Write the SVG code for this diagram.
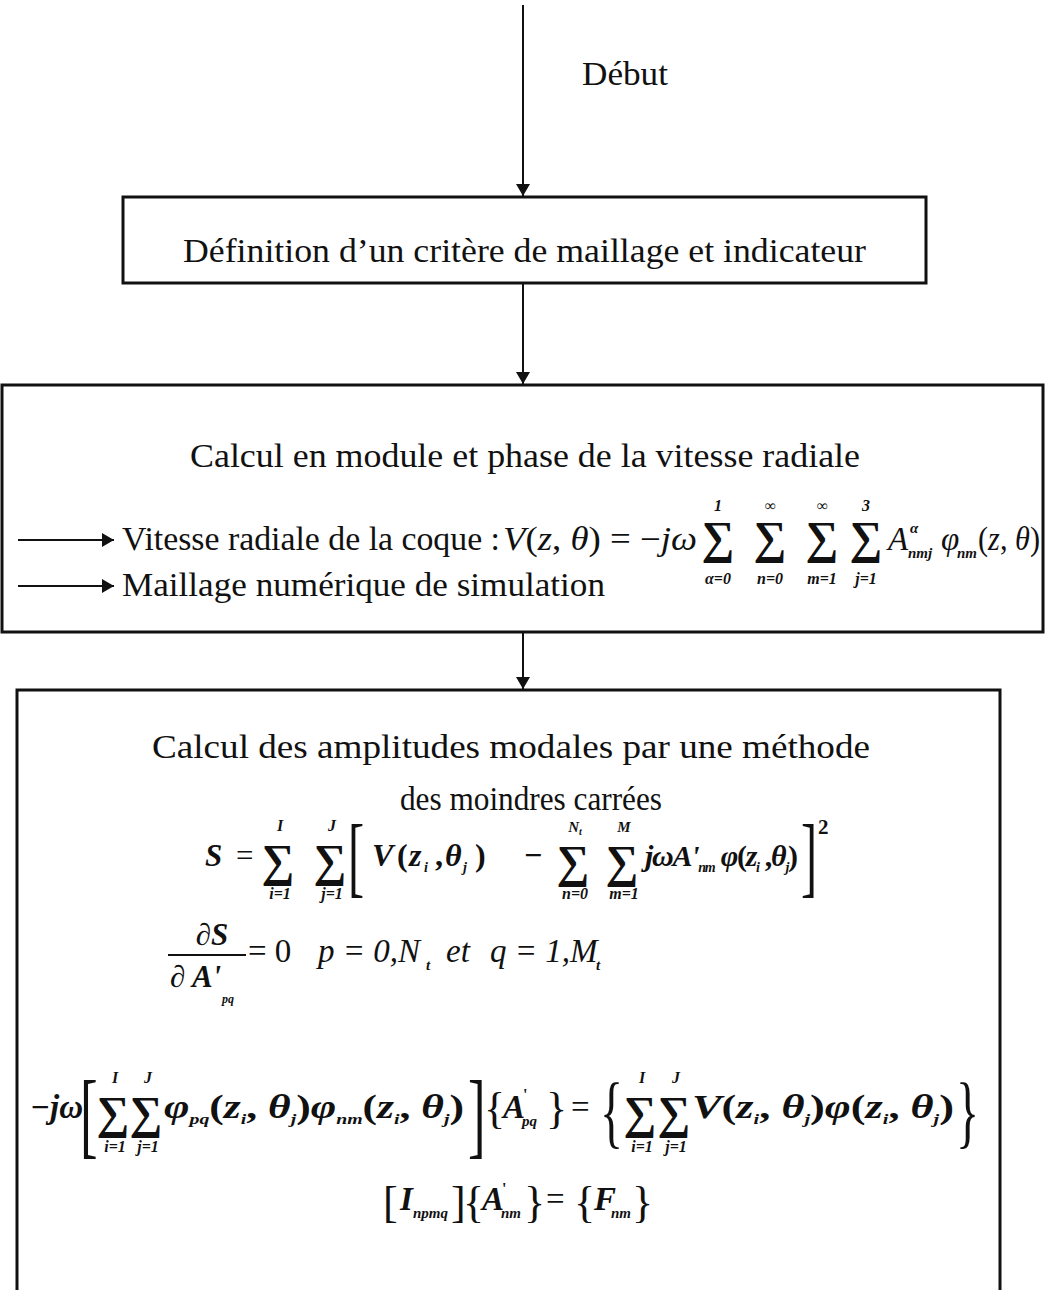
<svg xmlns="http://www.w3.org/2000/svg" width="1045" height="1290" viewBox="0 0 1045 1290">
<style>
.t{font-family:"Liberation Serif","Times New Roman",serif;font-size:33px;fill:#111}
.i{font-style:italic}
.b{font-weight:bold}
.s{font-size:46px;text-anchor:middle;font-weight:bold}
.lim{font-size:16px;font-style:italic;font-weight:bold;text-anchor:middle}
.sub{font-size:15px;font-style:italic;font-weight:bold}
.box{fill:none;stroke:#111;stroke-width:3}
.ln{stroke:#111;stroke-width:2;fill:none}
</style>
<defs>
<marker id="ah" markerWidth="12" markerHeight="14" refX="12" refY="7" orient="auto" markerUnits="userSpaceOnUse">
<path d="M0,0 L12,7 L0,14 z" fill="#111"/>
</marker>
</defs>
<rect width="1045" height="1290" fill="#fff"/>
<g id="connectors">
<line class="ln" x1="523" y1="5" x2="523" y2="196" marker-end="url(#ah)"/>
<line class="ln" x1="523" y1="283" x2="523" y2="384" marker-end="url(#ah)"/>
<line class="ln" x1="523" y1="632" x2="523" y2="689" marker-end="url(#ah)"/>
<line class="ln" x1="18" y1="540" x2="114" y2="540" marker-end="url(#ah)"/>
<line class="ln" x1="18" y1="586" x2="114" y2="586" marker-end="url(#ah)"/>
</g>
<g id="start">
<text class="t" x="582" y="85" textLength="86" lengthAdjust="spacingAndGlyphs">Début</text>
</g>
<g id="node-definition">
<rect class="box" x="123" y="197" width="803" height="86"/>
<text class="t" x="183" y="262" textLength="683" lengthAdjust="spacingAndGlyphs">Définition d’un critère de maillage et indicateur</text>
</g>
<g id="node-vitesse">
<rect class="box" x="2" y="385" width="1041" height="247"/>
<text class="t" x="190" y="467" textLength="670" lengthAdjust="spacingAndGlyphs">Calcul en module et phase de la vitesse radiale</text>
<text class="t" x="122" y="550" textLength="378" lengthAdjust="spacingAndGlyphs">Vitesse radiale de la coque :</text>
<text class="t" x="503" y="550" textLength="194" lengthAdjust="spacingAndGlyphs"><tspan class="i">V</tspan>(<tspan class="i">z</tspan>, <tspan class="i">θ</tspan>) = −<tspan class="i">jω</tspan></text>
<text class="t s" x="718" y="553">∑</text>
<text class="t s" x="770" y="553">∑</text>
<text class="t s" x="822" y="553">∑</text>
<text class="t s" x="866" y="553">∑</text>
<text class="t lim" x="718" y="511">1</text>
<text class="t lim" x="770" y="511">∞</text>
<text class="t lim" x="822" y="511">∞</text>
<text class="t lim" x="866" y="511">3</text>
<text class="t lim" x="718" y="584">α=0</text>
<text class="t lim" x="770" y="584">n=0</text>
<text class="t lim" x="822" y="584">m=1</text>
<text class="t lim" x="866" y="584">j=1</text>
<text class="t i" x="888" y="550">A</text>
<text class="t sub" x="910" y="533">α</text>
<text class="t sub" x="908" y="558">nmj</text>
<text class="t i" x="941" y="550">φ</text>
<text class="t sub" x="957" y="558">nm</text>
<text class="t" x="978" y="550" textLength="62" lengthAdjust="spacingAndGlyphs">(<tspan class="i">z</tspan>, <tspan class="i">θ</tspan>)</text>
<text class="t" x="122" y="596" textLength="483" lengthAdjust="spacingAndGlyphs">Maillage numérique de simulation</text>
</g>
<g id="node-amplitudes">
<rect class="box" x="17" y="690" width="983" height="640"/>
<text class="t" x="152" y="758" textLength="718" lengthAdjust="spacingAndGlyphs">Calcul des amplitudes modales par une méthode</text>
<text class="t" x="400" y="810" textLength="262" lengthAdjust="spacingAndGlyphs">des moindres carrées</text>
<!-- S equation -->
<text class="t i b" x="205" y="866" style="font-size:31px">S</text>
<text class="t" x="236" y="866" style="font-size:31px">=</text>
<text class="t s" x="278" y="876">∑</text>
<text class="t s" x="330" y="876">∑</text>
<text class="t lim" x="280" y="831">I</text>
<text class="t lim" x="332" y="831">J</text>
<text class="t lim" x="280" y="899">i=1</text>
<text class="t lim" x="332" y="899">j=1</text>
<text class="t" transform="translate(348,886) scale(0.55,1)" style="font-size:88px">[</text>
<text class="t i b" y="866" style="font-size:32px"><tspan x="372">V</tspan><tspan x="397" font-style="normal">(</tspan><tspan x="409">z</tspan><tspan x="424" dy="6" style="font-size:14px">i</tspan><tspan x="435" dy="-6" font-style="normal">,</tspan><tspan x="445">θ</tspan><tspan x="463" dy="6" style="font-size:14px">j</tspan><tspan x="475" dy="-6" font-style="normal">)</tspan><tspan x="524" font-style="normal">−</tspan></text>
<text class="t s" x="573" y="877">∑</text>
<text class="t s" x="622" y="877">∑</text>
<text class="t lim" x="575" y="832" style="font-size:15px">N<tspan style="font-size:10px" dy="3">t</tspan></text>
<text class="t lim" x="624" y="832" style="font-size:15px">M</text>
<text class="t lim" x="575" y="899">n=0</text>
<text class="t lim" x="624" y="899">m=1</text>
<text class="t i b" x="645" y="866" style="font-size:30px" textLength="153" lengthAdjust="spacing">jωA'<tspan style="font-size:14px" dy="6">nm</tspan><tspan dy="-6"> φ</tspan><tspan font-style="normal">(</tspan>z<tspan style="font-size:14px" dy="6">i</tspan><tspan dy="-6" font-style="normal"> ,</tspan>θ<tspan style="font-size:14px" dy="6">j</tspan><tspan dy="-6" font-style="normal">)</tspan></text>
<text class="t" transform="translate(801,886) scale(0.55,1)" style="font-size:88px">]</text>
<text class="t b" x="818" y="834" style="font-size:21px">2</text>
<!-- dS equation -->
<text class="t i b" x="212" y="945" text-anchor="middle" style="font-size:31px">∂S</text>
<line class="ln" x1="168" y1="955" x2="246" y2="955"/>
<text class="t i b" x="170" y="987" style="font-size:31px">∂ A'</text>
<text class="t sub" x="222" y="1003" style="font-size:12px">pq</text>
<text class="t" x="248" y="962">= 0</text>
<text class="t i" x="318" y="962">p = 0,N</text>
<text class="t sub" x="426" y="970">t</text>
<text class="t i" x="446" y="962">et</text>
<text class="t i" x="490" y="962">q = 1,M</text>
<text class="t sub" x="596" y="970">t</text>
<!-- big equation -->
<text class="t i b" x="30" y="1118">−jω</text>
<text class="t" transform="translate(80,1146) scale(0.55,1)" style="font-size:96px">[</text>
<text class="t s" x="113" y="1128">∑</text>
<text class="t s" x="146" y="1128">∑</text>
<text class="t lim" x="115" y="1083">I</text>
<text class="t lim" x="148" y="1083">J</text>
<text class="t lim" x="115" y="1152">i=1</text>
<text class="t lim" x="148" y="1152">j=1</text>
<text class="t i b" x="164" y="1118" textLength="300" lengthAdjust="spacingAndGlyphs">φ<tspan style="font-size:15px" dy="6">pq</tspan><tspan dy="-6" font-style="normal">(</tspan>z<tspan style="font-size:15px" dy="6">i</tspan><tspan dy="-6" font-style="normal">, </tspan>θ<tspan style="font-size:15px" dy="6">j</tspan><tspan dy="-6" font-style="normal">)</tspan>φ<tspan style="font-size:15px" dy="6">nm</tspan><tspan dy="-6" font-style="normal">(</tspan>z<tspan style="font-size:15px" dy="6">i</tspan><tspan dy="-6" font-style="normal">, </tspan>θ<tspan style="font-size:15px" dy="6">j</tspan><tspan dy="-6" font-style="normal">)</tspan></text>
<text class="t" transform="translate(468,1146) scale(0.55,1)" style="font-size:96px">]</text>
<text class="t" x="484" y="1123" style="font-size:44px">{</text>
<text class="t i b" x="503" y="1118">A</text>
<text class="t b" x="523" y="1100" style="font-size:16px">'</text>
<text class="t sub" x="522" y="1126">pq</text>
<text class="t" x="546" y="1123" style="font-size:44px">}</text>
<text class="t" x="571" y="1118">=</text>
<text class="t" transform="translate(600,1138) scale(0.6,1)" style="font-size:80px">{</text>
<text class="t s" x="640" y="1128">∑</text>
<text class="t s" x="674" y="1128">∑</text>
<text class="t lim" x="642" y="1083">I</text>
<text class="t lim" x="676" y="1083">J</text>
<text class="t lim" x="642" y="1152">i=1</text>
<text class="t lim" x="676" y="1152">j=1</text>
<text class="t i b" x="692" y="1118" textLength="262" lengthAdjust="spacingAndGlyphs">V<tspan font-style="normal">(</tspan>z<tspan style="font-size:15px" dy="6">i</tspan><tspan dy="-6" font-style="normal">, </tspan>θ<tspan style="font-size:15px" dy="6">j</tspan><tspan dy="-6" font-style="normal">)</tspan>φ<tspan font-style="normal">(</tspan>z<tspan style="font-size:15px" dy="6">i</tspan><tspan dy="-6" font-style="normal">, </tspan>θ<tspan style="font-size:15px" dy="6">j</tspan><tspan dy="-6" font-style="normal">)</tspan></text>
<text class="t" transform="translate(956,1138) scale(0.6,1)" style="font-size:80px">}</text>
<!-- matrix equation -->
<text class="t" x="383" y="1217" style="font-size:44px">[</text>
<text class="t i b" x="400" y="1210">I</text>
<text class="t sub" x="413" y="1218">npmq</text>
<text class="t" x="451" y="1217" style="font-size:44px">]</text>
<text class="t" x="463" y="1217" style="font-size:44px">{</text>
<text class="t i b" x="482" y="1210">A</text>
<text class="t b" x="502" y="1194" style="font-size:16px">'</text>
<text class="t sub" x="501" y="1218">nm</text>
<text class="t" x="524" y="1217" style="font-size:44px">}</text>
<text class="t" x="546" y="1210">=</text>
<text class="t" x="574" y="1217" style="font-size:44px">{</text>
<text class="t i b" x="594" y="1210">F</text>
<text class="t sub" x="611" y="1218">nm</text>
<text class="t" x="632" y="1217" style="font-size:44px">}</text>
</g>
</svg>
